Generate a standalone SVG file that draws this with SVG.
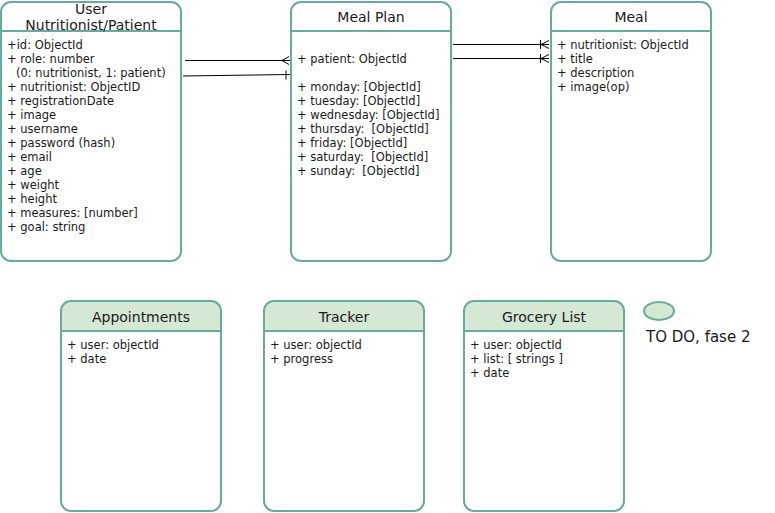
<svg xmlns="http://www.w3.org/2000/svg" width="775" height="513" viewBox="0 0 775 513">
<style>
.box{fill:#ffffff;stroke:#67AB9F;stroke-width:2}
.hdr{fill:#D5E8D4;stroke:#67AB9F;stroke-width:2}
.div{stroke:#67AB9F;stroke-width:2;fill:none}
.t{font-family:"DejaVu Sans","Liberation Sans",sans-serif;font-size:14px;fill:#1a1a1a;text-anchor:middle}
.a{font-family:"DejaVu Sans","Liberation Sans",sans-serif;font-size:11.5px;fill:#1a1a1a}
.c{stroke:#000;stroke-width:1;fill:none}
</style>
<rect width="775" height="513" fill="#fff"/>
<g id="user">
<rect class="box" x="1" y="2" width="180" height="259" rx="10"/>
<line class="div" x1="1" y1="31" x2="181" y2="31"/>
<text class="t" x="91" y="14">User</text>
<text class="t" x="91" y="30">Nutritionist/Patient</text>
<text class="a" x="7" y="49">+id: ObjectId</text>
<text class="a" x="7" y="63">+ role: number</text>
<text class="a" x="16" y="77">(0: nutritionist, 1: patient)</text>
<text class="a" x="7" y="91">+ nutritionist: ObjectID</text>
<text class="a" x="7" y="105">+ registrationDate</text>
<text class="a" x="7" y="119">+ image</text>
<text class="a" x="7" y="133">+ username</text>
<text class="a" x="7" y="147">+ password (hash)</text>
<text class="a" x="7" y="161">+ email</text>
<text class="a" x="7" y="175">+ age</text>
<text class="a" x="7" y="189">+ weight</text>
<text class="a" x="7" y="203">+ height</text>
<text class="a" x="7" y="217">+ measures: [number]</text>
<text class="a" x="7" y="231">+ goal: string</text>
</g>
<g id="mealplan">
<rect class="box" x="291" y="2" width="160" height="259" rx="10"/>
<line class="div" x1="291" y1="31" x2="451" y2="31"/>
<text class="t" x="371" y="22">Meal Plan</text>
<text class="a" x="297" y="63">+ patient: ObjectId</text>
<text class="a" x="297" y="91">+ monday: [ObjectId]</text>
<text class="a" x="297" y="105">+ tuesday: [ObjectId]</text>
<text class="a" x="297" y="119">+ wednesday: [ObjectId]</text>
<text class="a" x="297" y="133" xml:space="preserve">+ thursday:  [ObjectId]</text>
<text class="a" x="297" y="147">+ friday: [ObjectId]</text>
<text class="a" x="297" y="161" xml:space="preserve">+ saturday:  [ObjectId]</text>
<text class="a" x="297" y="175" xml:space="preserve">+ sunday:  [ObjectId]</text>
</g>
<g id="meal">
<rect class="box" x="551" y="2" width="160" height="259" rx="10"/>
<line class="div" x1="551" y1="31" x2="711" y2="31"/>
<text class="t" x="631" y="22">Meal</text>
<text class="a" x="557" y="49">+ nutritionist: ObjectId</text>
<text class="a" x="557" y="63">+ title</text>
<text class="a" x="557" y="77">+ description</text>
<text class="a" x="557" y="91">+ image(op)</text>
</g>
<g id="appointments">
<path class="hdr" d="M61,331 V311 A10,10 0 0 1 71,301 H211 A10,10 0 0 1 221,311 V331 Z"/>
<path class="box" d="M61,331 V501 A10,10 0 0 0 71,511 H211 A10,10 0 0 0 221,501 V331 Z"/>
<text class="t" x="141" y="322">Appointments</text>
<text class="a" x="67" y="349">+ user: objectId</text>
<text class="a" x="67" y="363">+ date</text>
</g>
<g id="tracker">
<path class="hdr" d="M264,331 V311 A10,10 0 0 1 274,301 H414 A10,10 0 0 1 424,311 V331 Z"/>
<path class="box" d="M264,331 V501 A10,10 0 0 0 274,511 H414 A10,10 0 0 0 424,501 V331 Z"/>
<text class="t" x="344" y="322">Tracker</text>
<text class="a" x="270" y="349">+ user: objectId</text>
<text class="a" x="270" y="363">+ progress</text>
</g>
<g id="grocery">
<path class="hdr" d="M464,331 V311 A10,10 0 0 1 474,301 H614 A10,10 0 0 1 624,311 V331 Z"/>
<path class="box" d="M464,331 V501 A10,10 0 0 0 474,511 H614 A10,10 0 0 0 624,501 V331 Z"/>
<text class="t" x="544" y="322">Grocery List</text>
<text class="a" x="470" y="349">+ user: objectId</text>
<text class="a" x="470" y="363">+ list: [ strings ]</text>
<text class="a" x="470" y="377">+ date</text>
</g>
<g id="legend">
<ellipse cx="659" cy="311" rx="15" ry="9" fill="#D5E8D4" stroke="#67AB9F" stroke-width="2"/>
<text x="646" y="342" style="font-family:'DejaVu Sans','Liberation Sans',sans-serif;font-size:15px;fill:#1a1a1a">TO DO, fase 2</text>
</g>
<g id="connectors">
<path class="c" d="M185,60.5 H290"/>
<path class="c" d="M289,56.5 L282,60.5 L289,64.5"/>
<path class="c" d="M183,76 L290,74.5"/>
<path class="c" d="M286,70.5 V79.5"/>
<path class="c" d="M453,44.5 H549"/>
<path class="c" d="M540.5,40 V49 M549,40.5 L541,44.5 L549,48.5"/>
<path class="c" d="M453,58.5 H549"/>
<path class="c" d="M540.5,54 V63 M549,54.5 L541,58.5 L549,62.5"/>
</g>
</svg>
